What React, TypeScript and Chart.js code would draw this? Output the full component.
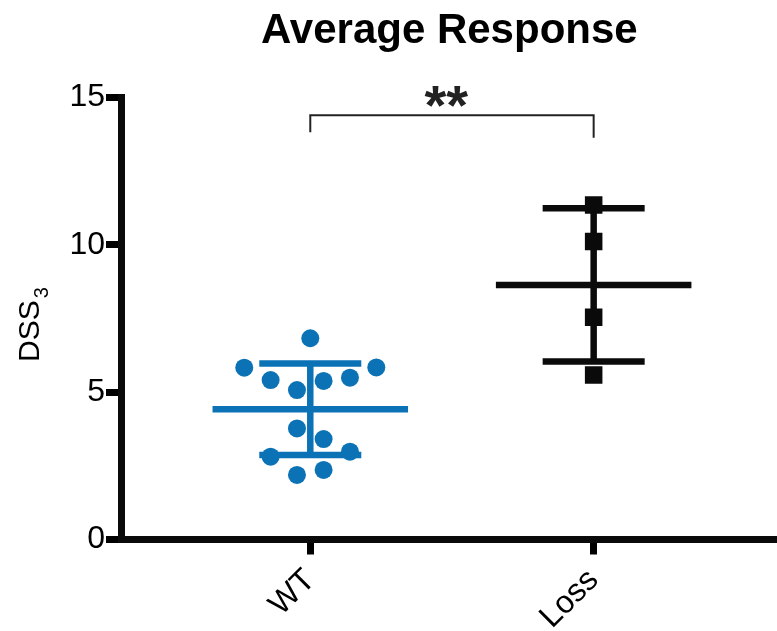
import React, { useEffect, useRef } from 'react';
import { Chart, registerables } from 'chart.js';

Chart.register(...registerables);

const FAMILY = '"Liberation Sans", Arial, Helvetica, sans-serif';

const titleText = 'Average Response';
const yLabelMain = 'DSS';
const yLabelSub = '3';
const categories = ['WT', 'Loss'];
const categoryPos = [1, 2];
const yTicks = [0, 5, 10, 15];

const wtX = [1.0, 0.767, 1.233, 0.86, 1.047, 1.14, 0.953, 0.953, 1.047, 0.86, 1.14, 0.953, 1.047];
const wtY = [6.83, 5.83, 5.84, 5.41, 5.38, 5.49, 5.07, 3.77, 3.41, 2.81, 2.98, 2.19, 2.36];
const lossX = [2, 2, 2, 2];
const lossY = [11.35, 10.11, 7.54, 5.58];

const means = [4.42, 8.64];
const sds = [1.55, 2.6];

const bracketX = [1, 1, 2, 2];
const bracketY = [13.82, 14.4, 14.4, 13.63];
const significance = '**';
const significanceX = 1.48;

const BLUE = '#0b72b6';
const BLACK = '#0a0a0a';

function whisker(cx: number, m: number, sd: number) {
  const hw = 0.345;
  const cw = 0.18;
  return [
    { x: cx - hw, y: m }, { x: cx + hw, y: m }, { x: cx, y: null },
    { x: cx - cw, y: m + sd }, { x: cx + cw, y: m + sd }, { x: cx, y: null },
    { x: cx - cw, y: m - sd }, { x: cx + cw, y: m - sd }, { x: cx, y: null },
    { x: cx, y: m + sd }, { x: cx, y: m - sd },
  ];
}

const overlay = {
  id: 'overlay',
  afterDraw(chart: any) {
    const { ctx, chartArea, scales } = chart;
    ctx.save();
    ctx.fillStyle = '#000';
    ctx.textAlign = 'center';
    ctx.textBaseline = 'alphabetic';
    ctx.font = `bold 42px ${FAMILY}`;
    ctx.fillText(titleText, (chartArea.left + chartArea.right) / 2, 43);

    ctx.fillStyle = '#222';
    ctx.font = `bold 56px ${FAMILY}`;
    ctx.fillText(significance, scales.x.getPixelForValue(significanceX), scales.y.getPixelForValue(bracketY[1]) + 9);

    ctx.fillStyle = '#000';
    ctx.translate(38.5, 362);
    ctx.rotate(-Math.PI / 2);
    ctx.textAlign = 'left';
    ctx.font = `30px ${FAMILY}`;
    ctx.fillText(yLabelMain, 0, 0);
    const w = ctx.measureText(yLabelMain).width;
    ctx.font = `20px ${FAMILY}`;
    ctx.fillText(yLabelSub, w + 2, 9.5);
    ctx.restore();
  },
};

export default function App() {
  const ref = useRef<HTMLCanvasElement>(null);
  useEffect(() => {
    if (!ref.current) return;
    const chart = new Chart(ref.current, {
      type: 'scatter',
      data: {
        datasets: [
          {
            data: wtX.map((x, i) => ({ x, y: wtY[i] })),
            pointRadius: 9,
            pointStyle: 'circle',
            backgroundColor: BLUE,
            borderWidth: 0,
          } as any,
          {
            data: lossX.map((x, i) => ({ x, y: lossY[i] })),
            pointRadius: 12.4,
            pointStyle: 'rect',
            backgroundColor: BLACK,
            borderWidth: 0,
          },
          {
            data: whisker(categoryPos[0], means[0], sds[0]),
            showLine: true,
            pointRadius: 0,
            borderColor: BLUE,
            borderWidth: 6.5,
            borderCapStyle: 'butt',
            spanGaps: false,
          },
          {
            data: whisker(categoryPos[1], means[1], sds[1]),
            showLine: true,
            pointRadius: 0,
            borderColor: BLACK,
            borderWidth: 6.5,
            borderCapStyle: 'butt',
            spanGaps: false,
          },
          {
            data: bracketX.map((x, i) => ({ x, y: bracketY[i] })),
            showLine: true,
            pointRadius: 0,
            borderColor: '#222',
            borderWidth: 2,
            borderCapStyle: 'butt',
          },
        ],
      },
      options: {
        animation: false,
        responsive: false,
        layout: { autoPadding: false, padding: { top: 97.5, left: 0, right: 0, bottom: 0 } },
        plugins: { legend: { display: false }, tooltip: { enabled: false }, title: { display: false } },
        scales: {
          x: {
            type: 'linear',
            min: 0.3345,
            max: 2.647,
            afterBuildTicks: (s: any) => { s.ticks = categoryPos.map((v) => ({ value: v })); },
            afterFit: (s: any) => { s.height = 91.5; },
            ticks: {
              callback: (v: any) => categories[categoryPos.indexOf(Math.round(v))],
              font: { size: 32, family: FAMILY },
              color: '#000',
              maxRotation: 45,
              minRotation: 45,
              autoSkip: false,
              padding: 7,
            },
            grid: { drawOnChartArea: false, drawTicks: true, tickLength: 15, tickWidth: 7, lineWidth: 7, color: '#000', tickColor: '#000' },
            border: { display: true, width: 7, color: BLACK },
          },
          y: {
            type: 'linear',
            min: 0,
            max: 15,
            afterBuildTicks: (s: any) => { s.ticks = yTicks.map((v) => ({ value: v })); },
            afterFit: (s: any) => { s.width = 121.7; },
            ticks: {
              font: { size: 32, family: FAMILY },
              color: '#000',
              padding: 1,
            },
            grid: { drawOnChartArea: false, drawTicks: true, tickLength: 15.7, tickWidth: 7, lineWidth: 7, color: '#000', tickColor: '#000' },
            border: { display: true, width: 7, color: BLACK },
          },
        },
      } as any,
      plugins: [overlay],
    });
    return () => chart.destroy();
  }, []);
  return (
    <canvas
      ref={ref}
      width={777}
      height={631}
      style={{ position: 'fixed', left: 0, top: 0, width: 777, height: 631 }}
    />
  );
}
